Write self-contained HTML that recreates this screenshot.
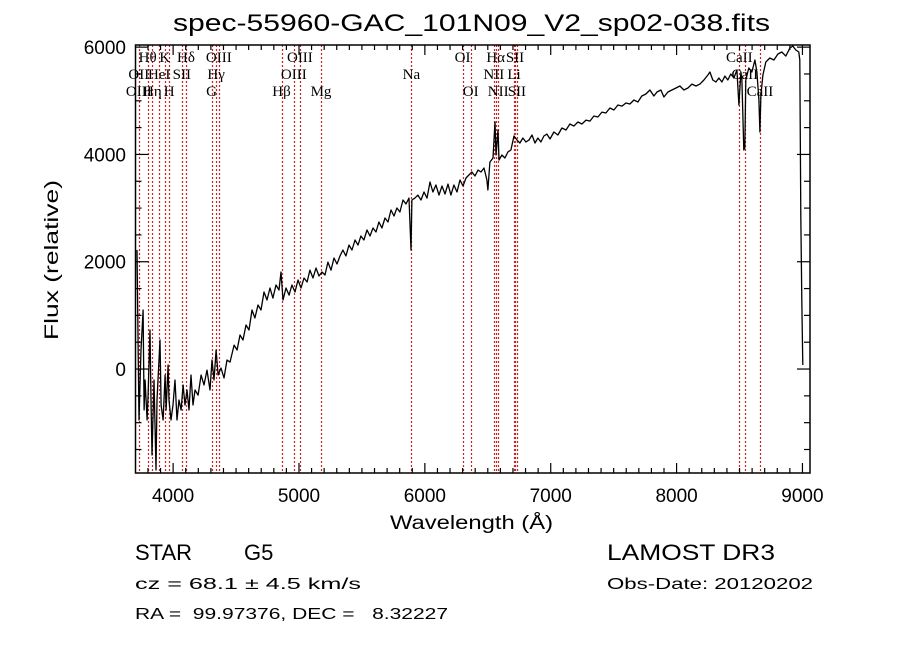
<!DOCTYPE html>
<html><head><meta charset="utf-8"><style>
body{margin:0;background:#fff;}
svg{display:block;}
text{font-family:"Liberation Sans",sans-serif;fill:#000;white-space:pre;}
.lbl{font-family:"Liberation Serif",serif;font-size:15px;}
</style></head><body>
<svg id="chart" width="900" height="649" viewBox="0 0 900 649" xmlns="http://www.w3.org/2000/svg" xml:space="preserve">
<rect width="900" height="649" fill="#fff"/>
<text x="173" y="31" font-size="24" textLength="597" lengthAdjust="spacingAndGlyphs">spec-55960-GAC_101N09_V2_sp02-038.fits</text>
<g id="lines"></g>
<g id="labels"></g>
<polyline id="spec" fill="none" stroke="#000" stroke-width="1.3" stroke-linejoin="round"/>
<rect x="135.5" y="45" width="674.5" height="428" fill="none" stroke="#000" stroke-width="1.5"/>
<g id="ticks" stroke="#000" stroke-width="1.2"></g>
<g id="ticklabels"></g>
<text transform="translate(58,340) rotate(-90)" font-size="19" textLength="160" lengthAdjust="spacingAndGlyphs">Flux (relative)</text>
<text x="390" y="529" font-size="19" textLength="163" lengthAdjust="spacingAndGlyphs">Wavelength (Å)</text>
<text x="135" y="560" font-size="22">STAR</text>
<text x="244" y="560" font-size="22">G5</text>
<text x="607" y="560" font-size="22" textLength="168" lengthAdjust="spacingAndGlyphs">LAMOST DR3</text>
<text x="135" y="589" font-size="16" textLength="226" lengthAdjust="spacingAndGlyphs">cz = 68.1 ± 4.5 km/s</text>
<text x="607" y="589" font-size="16" textLength="206" lengthAdjust="spacingAndGlyphs">Obs-Date: 20120202</text>
<text x="135" y="619" font-size="16" textLength="313" lengthAdjust="spacingAndGlyphs">RA =  99.97376, DEC =   8.32227</text>
</svg>
<script>
const wavelengths=[3713,3729,3745,3761,3769,3777,3793,3801,3816,3824,3832,3848,3864,3872,3896,3904,3920,3936,3944,3960,3967,3983,3999,4015,4031,4047,4063,4079,4094,4110,4126,4142,4158,4174,4198,4222,4245,4269,4293,4309,4325,4341,4357,4380,4404,4428,4452,4484,4508,4531,4555,4579,4603,4627,4650,4674,4698,4722,4746,4770,4793,4817,4841,4857,4873,4897,4921,4944,4968,4992,5016,5040,5064,5087,5111,5135,5159,5183,5207,5230,5254,5278,5302,5326,5349,5373,5397,5421,5445,5469,5492,5516,5540,5564,5588,5612,5635,5659,5683,5707,5731,5755,5778,5802,5826,5850,5874,5890,5897,5921,5945,5969,5993,6017,6041,6064,6088,6112,6136,6160,6184,6207,6231,6255,6279,6303,6327,6350,6374,6398,6422,6446,6470,6493,6501,6517,6541,6557,6565,6581,6589,6612,6636,6660,6684,6708,6732,6755,6779,6803,6827,6851,6875,6898,6922,6946,6970,6994,7025,7057,7089,7121,7152,7184,7216,7248,7280,7311,7343,7375,7407,7438,7470,7502,7534,7566,7597,7629,7661,7693,7724,7756,7788,7820,7844,7875,7899,7931,7963,7995,8026,8058,8090,8122,8154,8185,8217,8249,8265,8288,8312,8336,8360,8384,8407,8431,8455,8479,8495,8511,8519,8534,8542,8550,8574,8598,8622,8638,8654,8662,8670,8686,8709,8741,8773,8805,8836,8868,8900,8923,8947,8971,8979,8987,8995,9003];
const fluxes=[2218,-951,354,1100,-764,-205,-951,-485,727,-578,-1603,-205,-1883,-578,541,-671,-951,-112,-764,75,-578,-951,-671,-205,-951,-578,-764,-298,-671,-391,-764,-112,-671,-391,-485,-112,-298,-19,-391,168,-205,354,-112,19,-168,168,130,447,354,634,541,820,727,1100,951,1193,1100,1435,1286,1510,1323,1566,1473,1808,1286,1510,1379,1566,1435,1659,1510,1696,1622,1845,1696,1883,1734,1808,1752,1994,1845,2069,1957,2106,2218,2106,2311,2218,2405,2311,2479,2405,2591,2479,2628,2554,2740,2628,2815,2740,2964,2852,3001,2927,3150,3076,3187,2218,3150,3187,3243,3150,3299,3187,3486,3299,3430,3243,3411,3262,3448,3243,3430,3299,3523,3411,3560,3616,3672,3598,3709,3672,3747,3523,3337,3858,3933,4604,3989,4455,3896,3989,3933,4045,4082,4343,4268,4213,4306,4231,4268,4362,4213,4306,4231,4343,4380,4287,4418,4362,4492,4455,4567,4529,4604,4567,4641,4622,4716,4697,4790,4772,4865,4828,4921,4902,4958,4940,5014,4977,5089,5126,5201,5089,5163,5201,5070,5163,5201,5238,5275,5201,5238,5312,5275,5312,5387,5480,5536,5387,5350,5424,5350,5461,5387,5499,5424,5574,4921,5536,5387,4082,4119,5387,5611,5536,5760,5536,5014,4418,5107,5480,5722,5797,5760,5872,5909,5834,5983,6021,5946,5909,5760,2871,1286,75];
const lineWaves=[3727,3798,3835,3889,3934,3969,4069,4102,4305,4341,4363,4861,4959,5007,5175,5893,6300,6364,6548,6563,6583,6708,6716,6731,8498,8542,8662];
const labelText=["Hθ","K","Hδ","OIII","OIII","OI","Hα","SII","CaII","OII","HeI","SII","Hγ","OIII","Na","NII","Li","CaII","OIII","Hη","H","G","Hβ","Mg","OI","NII","SII","CaII"];
const labelWaves=[3798,3934,4102,4363,5007,6300,6563,6716,8498,3727,3889,4069,4341,4959,5893,6548,6708,8542,3727,3835,3969,4305,4861,5175,6364,6583,6731,8662];
const labelRows=[0,0,0,0,0,0,0,0,0,1,1,1,1,1,1,1,1,1,2,2,2,2,2,2,2,2,2,2];
const xTicksMajor=[4000,5000,6000,7000,8000,9000];
const yTicksMajor=[0,2000,4000,6000];

const X0=135.5,X1=810,Y0=473,Y1=45;
const xmin=3701,xmax=9060,ymin=-1938,ymax=6040;
const sx=w=>X0+(w-xmin)/(xmax-xmin)*(X1-X0);
const sy=f=>Y0-(f-ymin)/(ymax-ymin)*(Y0-Y1);
const NS="http://www.w3.org/2000/svg";
function mk(tag,parent){const e=document.createElementNS(NS,tag);parent.appendChild(e);return e;}

document.getElementById('spec').setAttribute('points',wavelengths.map((w,i)=>sx(w).toFixed(1)+','+sy(fluxes[i]).toFixed(1)).join(' '));

const lg=document.getElementById('lines');
lineWaves.forEach(w=>{const l=mk('line',lg);


const x=(Math.round(sx(w))+0.5).toFixed(1);l.setAttribute('x1',x);l.setAttribute('x2',x);l.setAttribute('y1',Y1);l.setAttribute('y2',Y0);
l.setAttribute('stroke','#d02020');l.setAttribute('stroke-width','1.2');l.setAttribute('stroke-dasharray','2,2');});

const lb=document.getElementById('labels');
labelText.forEach((t,i)=>{const e=mk('text',lb);


e.setAttribute('class','lbl');e.setAttribute('x',sx(labelWaves[i]).toFixed(1));e.setAttribute('y',62+labelRows[i]*17);
e.setAttribute('text-anchor','middle');e.textContent=t;});

const tg=document.getElementById('ticks');
function tick(x1,y1,x2,y2){const l=mk('line',tg);


l.setAttribute('x1',x1);l.setAttribute('y1',y1);l.setAttribute('x2',x2);l.setAttribute('y2',y2);}
for(let w=3800;w<=9000;w+=100){const x=sx(w);const len=(w%1000===0)?10:5;tick(x,Y0,x,Y0-len);tick(x,Y1,x,Y1+len);}
for(let f=-1500;f<=6000;f+=500){const y=sy(f);const len=(f%2000===0)?13:6;tick(X0,y,X0+len,y);tick(X1,y,X1-len,y);}
const tl=document.getElementById('ticklabels');
xTicksMajor.forEach(w=>{const e=mk('text',tl);


e.setAttribute('x',sx(w));e.setAttribute('y',502);e.setAttribute('font-size','19');e.setAttribute('text-anchor','middle');e.textContent=w;});
yTicksMajor.forEach(f=>{const e=mk('text',tl);


e.setAttribute('x',126);e.setAttribute('y',sy(f)+7);e.setAttribute('font-size','19');e.setAttribute('text-anchor','end');e.textContent=f;});
</script>
</body></html>
